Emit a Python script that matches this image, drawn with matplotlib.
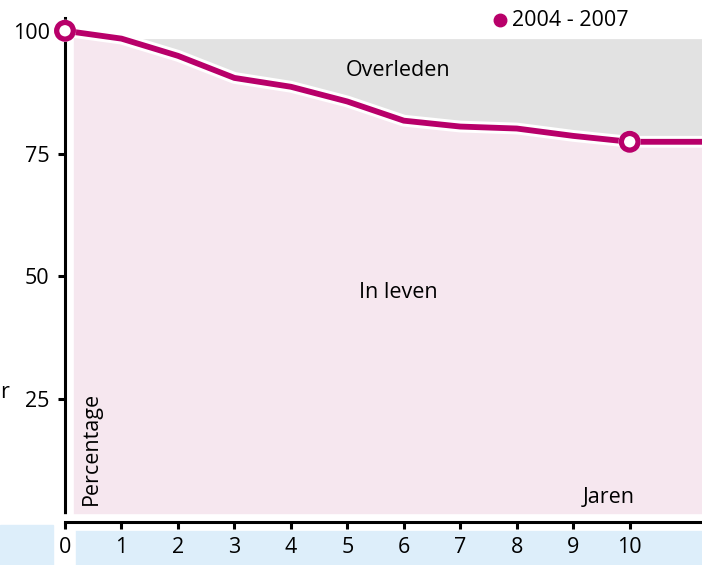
import matplotlib
matplotlib.use("Agg")
import matplotlib.pyplot as plt
import matplotlib.patheffects as pe
from matplotlib.lines import Line2D
from matplotlib.patches import Rectangle

# overleving (%) per jaar na diagnose, cohort 2004 - 2007
jaren = [0, 1, 2, 3, 4, 5, 6, 7, 8, 9, 10]
in_leven = [100, 98.4, 94.9, 90.4, 88.6, 85.6, 81.7, 80.5, 80.1, 78.6, 77.4]
x_einde = 11.28          # lijn loopt vlak door tot de rand
bovengrens = 98.4        # bovenkant grijze band 'Overleden'
yticks = [25, 50, 75, 100]
label = "2004 - 2007"

MAGENTA = "#b8006a"
PINK = "#f6e7ef"
GRIJS = "#e2e2e2"
BLAUW = "#ddeefa"
FS = 15.5

plt.rcParams["font.family"] = ["Open Sans", "DejaVu Sans"]

fig = plt.figure(figsize=(7.02, 5.65), dpi=100)
ax = fig.add_axes([65 / 702, 43 / 565, 637 / 702, 504 / 565])

x = jaren + [x_einde]
y = in_leven + [in_leven[-1]]

ax.fill_between(x, 0, y, color=PINK, lw=0, zorder=1)
ax.fill_between(x, y, bovengrens, where=[v < bovengrens for v in y],
                interpolate=True, color=GRIJS, lw=0, zorder=1)
ax.plot(x, y, color=MAGENTA, lw=4.2, solid_capstyle="butt", zorder=3,
        path_effects=[pe.withStroke(linewidth=8.5, foreground="white")])
ax.plot([jaren[0], jaren[-1]], [in_leven[0], in_leven[-1]], ls="none", marker="o",
        ms=12, mfc="white", mec=MAGENTA, mew=3.8, zorder=4, clip_on=False,
        path_effects=[pe.withStroke(linewidth=4, foreground="white")])

ax.set_xlim(0, x_einde)
ax.set_ylim(0, 102.6)
ax.set_xticks(jaren)
ax.set_yticks(yticks)
for s in ["top", "right"]:
    ax.spines[s].set_visible(False)
for s in ["left", "bottom"]:
    ax.spines[s].set_linewidth(2.2)
    ax.spines[s].set_zorder(2.5)
    ax.spines[s].set_path_effects([pe.withStroke(linewidth=12, foreground="white")])
ax.xaxis.set_zorder(2.6)
ax.yaxis.set_zorder(2.6)
ax.tick_params(axis="both", length=5, width=2.2, labelsize=FS)
ax.tick_params(axis="y", pad=6)
ax.tick_params(axis="x", pad=6)
ax.set_facecolor("white")

ax.text(5.9, 92.0, "Overleden", ha="center", va="center", fontsize=FS)
ax.text(5.9, 46.8, "In leven", ha="center", va="center", fontsize=FS)
ax.text(0.47, 3.5, "Percentage", rotation=90, ha="center", va="bottom", fontsize=FS)
ax.text(9.62, 5.0, "Jaren", ha="center", va="center", fontsize=FS)

# lichtblauwe strook achter de x-as labels
fig.patches.append(Rectangle((0, 0), 53 / 702, 40 / 565, transform=fig.transFigure,
                             color=BLAUW, zorder=-1))
fig.patches.append(Rectangle((76 / 702, 0), 626 / 702, 40 / 565, transform=fig.transFigure,
                             color=BLAUW, zorder=-1))

fig.text(0 / 702, 1 - 393 / 565, "r", ha="left", va="center", fontsize=FS)

# legenda
fig.add_artist(Line2D([500 / 702], [1 - 20 / 565], transform=fig.transFigure,
                      marker="o", ms=9, color=MAGENTA, ls="none"))
fig.text(512 / 702, 1 - 20 / 565, label, ha="left", va="center", fontsize=FS)

fig.savefig("out.png", dpi=100)
